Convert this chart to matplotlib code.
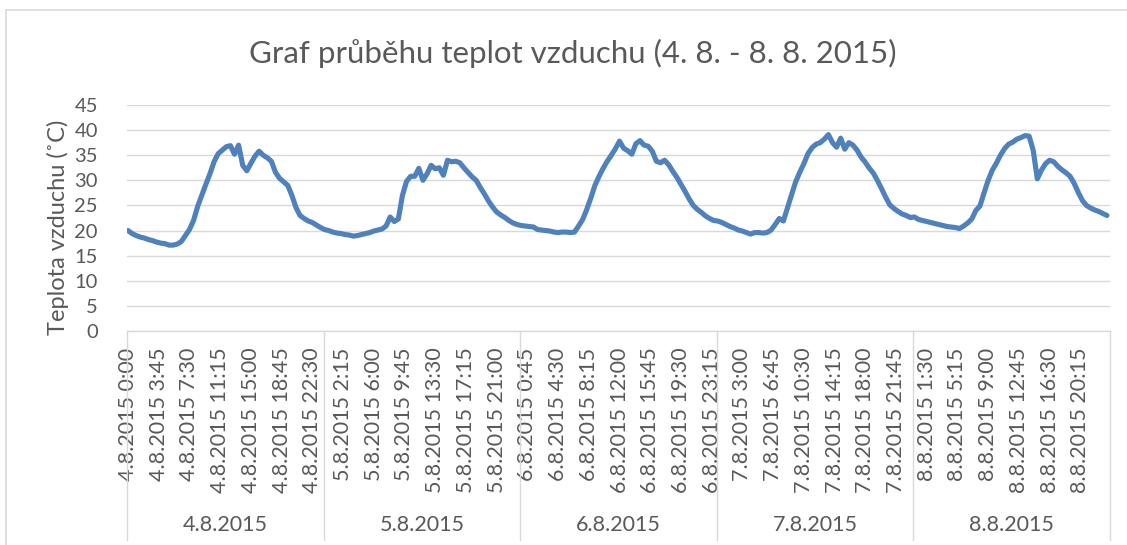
import matplotlib
matplotlib.use("Agg")
import matplotlib.pyplot as plt
from matplotlib.lines import Line2D

plt.rcParams['font.family'] = ['Lato', 'DejaVu Sans']

# Air temperature readings (°C), one value every 30 minutes, per day
day_4_8 = [20.0, 19.4, 19.0, 18.7, 18.5, 18.2, 18.0, 17.7, 17.5, 17.4, 17.1, 17.1,
           17.3, 17.8, 19.0, 20.2, 22.0, 24.8, 27.0, 29.2, 31.3, 33.7, 35.3, 36.0,
           36.7, 36.9, 35.2, 37.0, 33.0, 31.9, 33.4, 34.8, 35.8, 35.0, 34.5, 33.8,
           31.6, 30.4, 29.7, 29.0, 27.0, 24.6, 23.0, 22.4, 21.9, 21.6, 21.1, 20.6]
day_5_8 = [20.2, 20.0, 19.7, 19.5, 19.4, 19.2, 19.1, 18.9, 19.0, 19.2, 19.4, 19.6,
           19.9, 20.1, 20.3, 20.9, 22.7, 21.8, 22.3, 27.0, 29.8, 30.8, 30.8, 32.4,
           30.0, 31.3, 33.0, 32.3, 32.5, 31.0, 34.0, 33.7, 33.8, 33.5, 32.5, 31.6,
           30.7, 30.0, 28.6, 27.3, 25.9, 24.7, 23.7, 23.1, 22.6, 22.0, 21.5, 21.2]
day_6_8 = [21.0, 20.9, 20.8, 20.7, 20.2, 20.1, 20.0, 19.9, 19.7, 19.6, 19.7, 19.7,
           19.6, 19.7, 20.9, 22.2, 24.2, 26.5, 29.0, 30.8, 32.4, 33.8, 35.0, 36.3,
           37.8, 36.4, 35.9, 35.2, 37.3, 37.9, 37.0, 36.8, 35.8, 33.8, 33.5, 34.0,
           33.1, 31.8, 30.6, 29.2, 27.8, 26.3, 25.0, 24.2, 23.6, 22.9, 22.4, 22.0]
day_7_8 = [21.9, 21.6, 21.2, 20.8, 20.5, 20.1, 19.9, 19.6, 19.3, 19.6, 19.6, 19.5,
           19.6, 20.1, 21.2, 22.4, 21.9, 24.5, 27.1, 29.7, 31.6, 33.3, 35.3, 36.5,
           37.2, 37.5, 38.2, 39.1, 37.5, 36.6, 38.4, 36.2, 37.5, 37.0, 36.0, 34.6,
           33.6, 32.4, 31.4, 29.9, 28.3, 26.6, 25.1, 24.4, 23.8, 23.3, 23.0, 22.6]
day_8_8 = [22.7, 22.2, 22.0, 21.8, 21.6, 21.4, 21.2, 21.0, 20.8, 20.7, 20.6, 20.4,
           20.9, 21.5, 22.3, 24.0, 24.9, 27.5, 30.0, 32.0, 33.4, 35.0, 36.3, 37.2,
           37.6, 38.2, 38.5, 38.9, 38.8, 36.0, 30.3, 32.0, 33.3, 34.0, 33.7, 32.8,
           32.1, 31.5, 30.8, 29.4, 27.6, 26.0, 25.0, 24.5, 24.1, 23.8, 23.4, 23.0]

days = ['4.8.2015', '5.8.2015', '6.8.2015', '7.8.2015', '8.8.2015']
time_labels = [
    '4.8.2015 0:00', '4.8.2015 3:45', '4.8.2015 7:30', '4.8.2015 11:15',
    '4.8.2015 15:00', '4.8.2015 18:45', '4.8.2015 22:30',
    '5.8.2015 2:15', '5.8.2015 6:00', '5.8.2015 9:45', '5.8.2015 13:30',
    '5.8.2015 17:15', '5.8.2015 21:00',
    '6.8.2015 0:45', '6.8.2015 4:30', '6.8.2015 8:15', '6.8.2015 12:00',
    '6.8.2015 15:45', '6.8.2015 19:30', '6.8.2015 23:15',
    '7.8.2015 3:00', '7.8.2015 6:45', '7.8.2015 10:30', '7.8.2015 14:15',
    '7.8.2015 18:00', '7.8.2015 21:45',
    '8.8.2015 1:30', '8.8.2015 5:15', '8.8.2015 9:00', '8.8.2015 12:45',
    '8.8.2015 16:30', '8.8.2015 20:15',
]

slots_per_day = 96      # 15-minute categories on the axis
step = 2                # readings every 30 minutes
label_every = 15

temps = day_4_8 + day_5_8 + day_6_8 + day_7_8 + day_8_8
x = [i * step + 0.5 for i in range(len(temps))]
n_slots = slots_per_day * len(days)

text_col = '#595959'
grid_col = '#d9d9d9'

fig = plt.figure(figsize=(11.27, 5.45), dpi=100)
ax = fig.add_axes([127 / 1127, 1 - 331 / 545, (1110 - 127) / 1127, 226 / 545])

ax.plot(x, temps, color='#4F81BD', linewidth=3.7, solid_joinstyle='round',
        solid_capstyle='round', zorder=3)

ax.set_xlim(0, n_slots)
ax.set_ylim(0, 45)
ax.set_yticks(range(0, 46, 5))
ax.grid(axis='y', color=grid_col, linewidth=1.0)
ax.set_axisbelow(True)
for s in ['top', 'right', 'left']:
    ax.spines[s].set_visible(False)
ax.spines['bottom'].set_color(grid_col)
ax.spines['bottom'].set_linewidth(1.0)

ax.set_xticks([i * label_every + 0.5 for i in range(len(time_labels))])
ax.set_xticklabels(time_labels, rotation=90, va='top', ha='center')
ax.tick_params(axis='x', length=0, pad=12, labelsize=15.5, labelcolor=text_col)
ax.tick_params(axis='y', length=0, pad=21, labelsize=14.5, labelcolor=text_col)

ax.set_ylabel('Teplota vzduchu (˚C)', fontsize=17, color=text_col)
ax.yaxis.set_label_coords(-58 / 983, 0.46)

fig.text(573 / 1127, 1 - 53 / 545, 'Graf průběhu teplot vzduchu (4. 8. - 8. 8. 2015)',
         ha='center', va='center', fontsize=22.5, color=text_col)

# multi-level category separators and day labels
trans = ax.get_xaxis_transform()
sep_bottom = -(540 - 331) / 226
for d in range(len(days) + 1):
    ax.add_line(Line2D([d * slots_per_day] * 2, [0, sep_bottom], transform=trans,
                       color=grid_col, linewidth=1.0, clip_on=False))
for d, name in enumerate(days):
    ax.text((d + 0.5) * slots_per_day, -(525 - 331) / 226, name, transform=trans,
            ha='center', va='center', fontsize=15.5, color=text_col)

# chart border
fig.add_artist(Line2D([6 / 1127, 6 / 1127], [0, 1 - 10 / 545], color=grid_col, linewidth=1.2))
fig.add_artist(Line2D([6 / 1127, 1], [1 - 10 / 545, 1 - 10 / 545], color=grid_col, linewidth=1.2))

fig.savefig('out.png', dpi=100)
